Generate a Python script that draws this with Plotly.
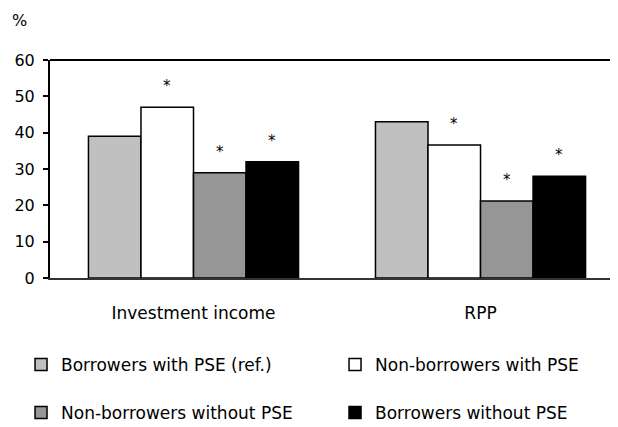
import plotly.graph_objects as go

categories = ["Investment income", "RPP"]
series_names = ["Borrowers with PSE (ref.)", "Non-borrowers with PSE",
                "Non-borrowers without PSE", "Borrowers without PSE"]
values = {
    "Borrowers with PSE (ref.)": [39, 43],
    "Non-borrowers with PSE": [47, 36.6],
    "Non-borrowers without PSE": [29, 21.2],
    "Borrowers without PSE": [32, 28],
}
significant = {
    "Borrowers with PSE (ref.)": [False, False],
    "Non-borrowers with PSE": [True, True],
    "Non-borrowers without PSE": [True, True],
    "Borrowers without PSE": [True, True],
}
colors = ["#C0C0C0", "#FFFFFF", "#969696", "#000000"]
y_ticks = [0, 10, 20, 30, 40, 50, 60]

FONT = "DejaVu Sans"
bargap = 0.268
n = len(series_names)
bw = (1 - bargap) / n

# legend placement (paper coords): 2 columns x 2 rows
legend_ids = ["legend", "legend2", "legend3", "legend4"]
legend_pos = [(-0.051, -0.399), (0.5018, -0.399), (-0.051, -0.619), (0.5018, -0.619)]

fig = go.Figure()
annotations = []
for i, name in enumerate(series_names):
    fig.add_trace(go.Bar(
        x=list(range(len(categories))), y=values[name], name=name,
        marker=dict(color=colors[i], line=dict(color="#000000", width=1.5)),
        legend=legend_ids[i], width=bw,
        offset=-(1 - bargap) / 2 + bw * i,
    ))
    for j, v in enumerate(values[name]):
        if significant[name][j]:
            annotations.append(dict(
                x=j - (1 - bargap) / 2 + bw * (i + 0.5), y=v, xref="x", yref="y",
                text="*", showarrow=False, yanchor="bottom", yshift=10,
                font=dict(family=FONT, size=15, color="#000000")))

annotations.append(dict(x=-0.0704, y=1.183, xref="paper", yref="paper", xanchor="left",
                        yanchor="middle", text="%", showarrow=False,
                        font=dict(family=FONT, size=16, color="#000000")))

legend_layouts = {}
for lid, (lx, ly) in zip(legend_ids, legend_pos):
    legend_layouts[lid] = dict(orientation="h", x=lx, xanchor="left", y=ly, yanchor="middle",
                               bgcolor="rgba(0,0,0,0)",
                               font=dict(family=FONT, size=17, color="#000000"))

fig.update_layout(
    width=610, height=419,
    margin=dict(l=42, r=0, t=52, b=149, autoexpand=False),
    paper_bgcolor="white", plot_bgcolor="white",
    barmode="overlay",
    font=dict(family=FONT, size=16, color="#000000"),
    showlegend=True,
    annotations=annotations,
    shapes=[dict(type="line", xref="paper", yref="paper", x0=0, x1=1, y0=1, y1=1,
                 line=dict(color="#000000", width=2))],
    **legend_layouts,
)
fig.update_xaxes(
    range=[-0.5, 1.479], tickmode="array", tickvals=list(range(len(categories))),
    ticktext=categories, showline=True, linecolor="#333333", linewidth=2,
    ticks="", showgrid=False, zeroline=False, ticklabelstandoff=19, automargin=False,
    tickfont=dict(family=FONT, size=17, color="#000000"),
)
fig.update_yaxes(
    range=[0, 60], tickmode="array", tickvals=y_ticks, showline=True,
    linecolor="#000000", linewidth=2, ticks="outside", ticklen=5, tickwidth=1.5,
    tickcolor="#000000", showgrid=False, zeroline=False, ticklabelstandoff=5,
    automargin=False,
    tickfont=dict(family=FONT, size=16, color="#000000"),
)

fig.write_html("out.html")
